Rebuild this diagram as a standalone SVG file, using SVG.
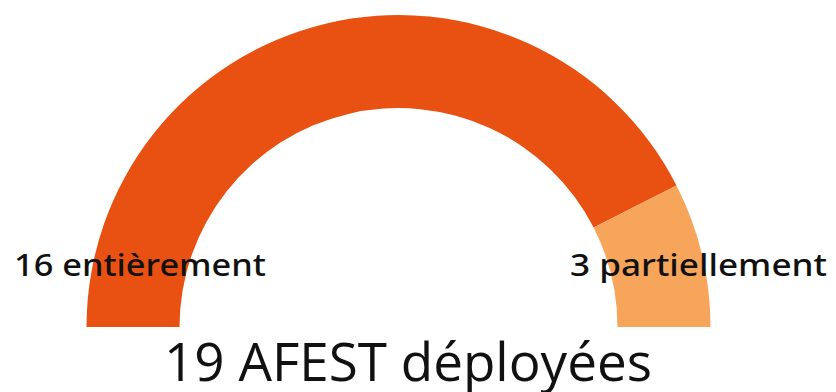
<svg xmlns="http://www.w3.org/2000/svg" width="836" height="392" viewBox="0 0 836 392">
  <style>
    .full { fill: #E85112; }
    .part { fill: #F6A55A; }
    .lbl { font-family: "Noto Sans", Lato, sans-serif; font-size: 31px; font-weight: 500; fill: #111; }
    .total { font-family: "Open Sans", "Noto Sans", sans-serif; font-size: 53px; fill: #111; }
  </style>
  <rect width="836" height="392" fill="#ffffff"/>
  <!-- half-donut gauge, centre (398.5, 327), radii 312 / 219 -->
  <g id="seg-full">
    <path class="full" d="M86.5,327 A312,312 0 0 1 676.5,185.4 L593.6,227.6 A219,219 0 0 0 179.5,327 Z"/>
  </g>
  <g id="seg-partial">
    <path class="part" d="M676.5,185.4 A312,312 0 0 1 710.5,327 L617.5,327 A219,219 0 0 0 593.6,227.6 Z"/>
  </g>
  <g id="labels">
    <text class="lbl" x="14" y="276" textLength="252" lengthAdjust="spacingAndGlyphs">16 entièrement</text>
    <text class="lbl" x="570" y="276" textLength="257" lengthAdjust="spacingAndGlyphs">3 partiellement</text>
  </g>
  <g id="total">
    <text class="total" x="164" y="381">19 AFEST déployées</text>
  </g>
</svg>
